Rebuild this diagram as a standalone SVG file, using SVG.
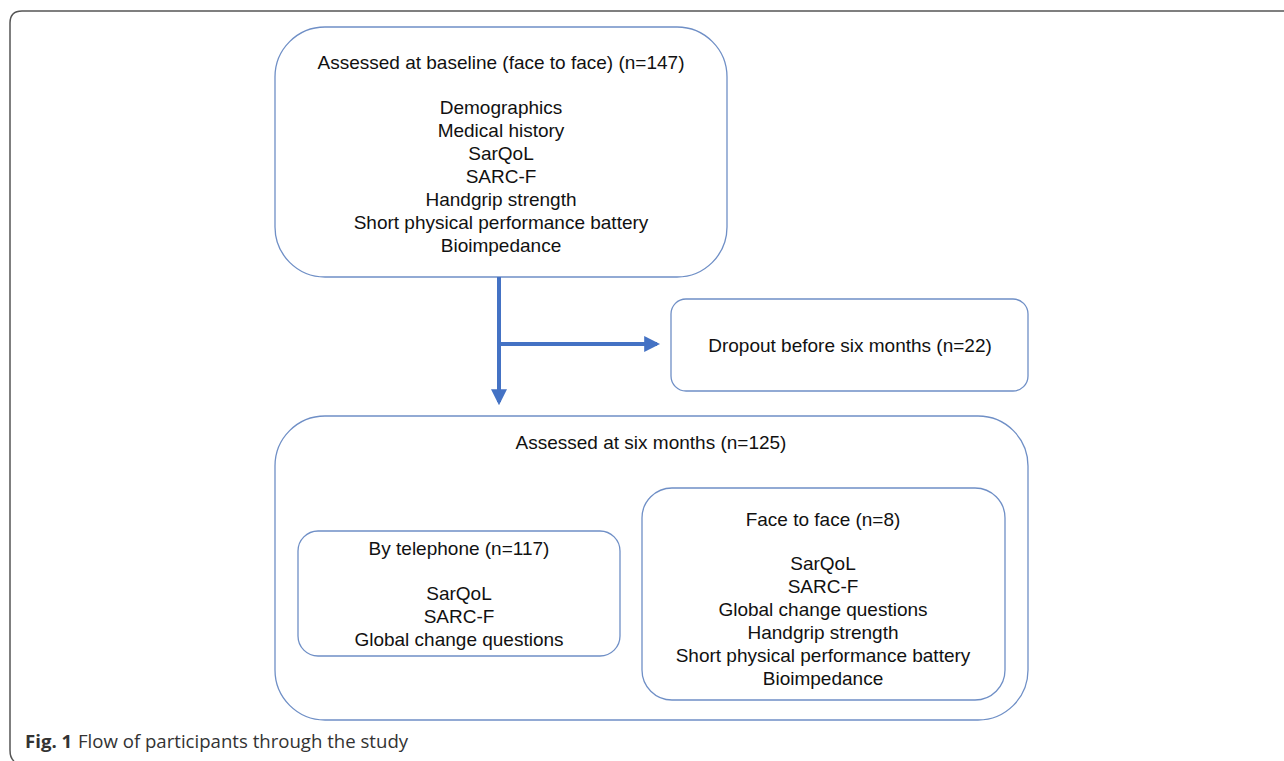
<svg xmlns="http://www.w3.org/2000/svg" width="1284" height="761" viewBox="0 0 1284 761">
<style>
.box{fill:#fff;stroke:#6F8FC6;stroke-width:1.3}
.t{font-family:"Liberation Sans",Arial,sans-serif;font-size:19px;fill:#111;text-anchor:middle}
.cap{font-family:"Open Sans","Noto Sans",sans-serif;font-size:18.6px;fill:#333}
.conn{stroke:#4472C4;stroke-width:4;fill:none}
</style>
<defs>
<marker id="ah" markerWidth="4" markerHeight="4" refX="3.2" refY="2" orient="auto" markerUnits="strokeWidth">
<path d="M0,0 L4,2 L0,4 Z" fill="#4472C4"/>
</marker>
</defs>
<rect width="1284" height="761" fill="#fff"/>
<path d="M1284,11 H22 Q10,11 10,23 V750 Q10,758 14,761" fill="none" stroke="#555" stroke-width="1.5"/>
<g id="baseline">
<rect class="box" x="275" y="27" width="452" height="250" rx="50"/>
<text class="t" x="501" y="69">Assessed at baseline (face to face) (n=147)</text>
<text class="t" x="501" y="114">Demographics</text>
<text class="t" x="501" y="137">Medical history</text>
<text class="t" x="501" y="160">SarQoL</text>
<text class="t" x="501" y="183">SARC-F</text>
<text class="t" x="501" y="206">Handgrip strength</text>
<text class="t" x="501" y="229">Short physical performance battery</text>
<text class="t" x="501" y="252">Bioimpedance</text>
</g>
<g id="dropout">
<rect class="box" x="671" y="299" width="357" height="92" rx="15"/>
<text class="t" x="850" y="352">Dropout before six months (n=22)</text>
</g>
<g id="sixmonths">
<rect class="box" x="275" y="416" width="753" height="304" rx="50"/>
<text class="t" x="651" y="449">Assessed at six months (n=125)</text>
</g>
<g id="telephone">
<rect class="box" x="298" y="531" width="322" height="125" rx="20"/>
<text class="t" x="459" y="555">By telephone (n=117)</text>
<text class="t" x="459" y="600">SarQoL</text>
<text class="t" x="459" y="623">SARC-F</text>
<text class="t" x="459" y="646">Global change questions</text>
</g>
<g id="facetoface">
<rect class="box" x="642" y="488" width="363" height="212" rx="30"/>
<text class="t" x="823" y="526">Face to face (n=8)</text>
<text class="t" x="823" y="570">SarQoL</text>
<text class="t" x="823" y="593">SARC-F</text>
<text class="t" x="823" y="616">Global change questions</text>
<text class="t" x="823" y="639">Handgrip strength</text>
<text class="t" x="823" y="662">Short physical performance battery</text>
<text class="t" x="823" y="685">Bioimpedance</text>
</g>
<g id="connectors">
<path class="conn" d="M499,277 V402" marker-end="url(#ah)"/>
<path class="conn" d="M499,344 H657" marker-end="url(#ah)"/>
</g>
<text class="cap" x="25" y="748"><tspan font-weight="bold">Fig. 1</tspan><tspan x="78">Flow of participants through the study</tspan></text>
</svg>
